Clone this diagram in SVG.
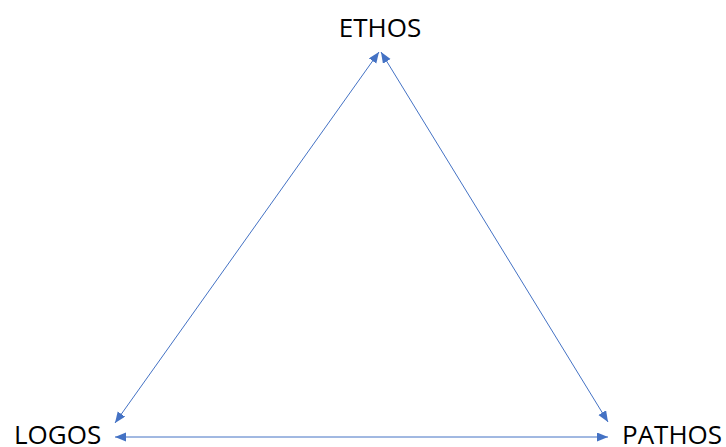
<svg xmlns="http://www.w3.org/2000/svg" width="726" height="447" viewBox="0 0 726 447">
<defs>
<style>
.lbl{font-family:"Open Sans","Liberation Sans",sans-serif;font-size:26px;fill:#000}
.conn{stroke:#4472C4;stroke-width:1;fill:none;marker-start:url(#ah);marker-end:url(#ah)}
</style>
<marker id="ah" markerUnits="userSpaceOnUse" markerWidth="12" markerHeight="10" refX="11" refY="4.5" orient="auto-start-reverse" viewBox="0 0 12 10">
<path d="M0,0 L11,4.5 L0,9 Z" fill="#4472C4"/>
</marker>
</defs>
<rect width="726" height="447" fill="#fff"/>
<g id="connectors">
<line class="conn" x1="379" y1="52" x2="115" y2="423"/>
<line class="conn" x1="381" y1="52" x2="608" y2="422"/>
<line class="conn" x1="115" y1="437" x2="608" y2="437"/>
</g>
<g id="ethos"><text class="lbl" x="380" y="37" text-anchor="middle">ETHOS</text></g>
<g id="logos"><text class="lbl" x="14" y="444">LOGOS</text></g>
<g id="pathos"><text class="lbl" x="622" y="444">PATHOS</text></g>
</svg>
